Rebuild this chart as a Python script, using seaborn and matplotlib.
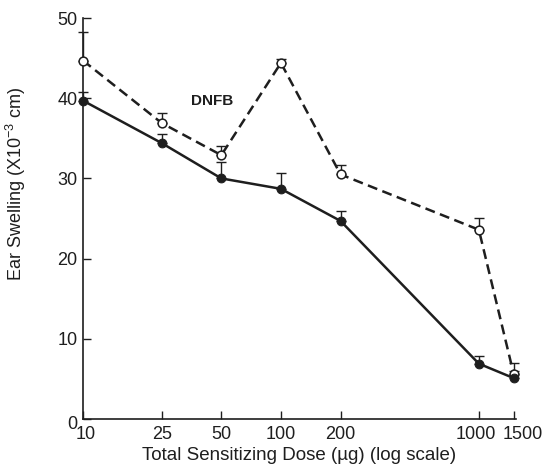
import matplotlib.pyplot as plt
import matplotlib.transforms as mtransforms
import seaborn as sns
import pandas as pd

dose = [10, 25, 50, 100, 200, 1000, 1500]
dose_labels = ["10", "25", "50", "100", "200", "1000", "1500"]

# open circles (dashed)
open_mean = [44.7, 36.9, 32.9, 44.4, 30.5, 23.6, 5.6]
open_err = [3.5, 1.2, 1.2, 0.5, 1.2, 1.5, 1.4]
# filled circles (solid)
filled_mean = [39.7, 34.4, 30.0, 28.7, 24.7, 6.9, 5.1]
filled_err = [1.1, 1.1, 2.0, 2.0, 1.2, 0.9, 0.9]

df = pd.DataFrame({
    "dose": dose * 2,
    "swelling": open_mean + filled_mean,
    "group": ["open"] * len(dose) + ["filled"] * len(dose),
})

sns.set_style("ticks")
plt.rcParams['font.family'] = ['Liberation Sans', 'DejaVu Sans']

ink = "#1e1e1e"
fig = plt.figure(figsize=(5.46, 4.74), dpi=100)
ax = fig.add_axes([0.152, 0.116, 0.793, 0.846])

# error bars, upper side only
ax.errorbar(dose, open_mean, yerr=[[0] * len(dose), open_err], fmt="none",
            ecolor=ink, elinewidth=1.0, capsize=3.5, capthick=1.0, clip_on=False, zorder=2)
ax.errorbar(dose, filled_mean, yerr=[[0] * len(dose), filled_err], fmt="none",
            ecolor=ink, elinewidth=1.0, capsize=3.5, capthick=1.0, clip_on=False, zorder=2)

sub_open = df[df["group"] == "open"]
sub_filled = df[df["group"] == "filled"]
sns.lineplot(data=sub_open, x="dose", y="swelling", ax=ax, color=ink, lw=1.8,
             linestyle=(0, (4, 2.2)), marker="o", markersize=6.3, markerfacecolor="white",
             markeredgecolor=ink, markeredgewidth=1.1, clip_on=False, zorder=3)
sns.lineplot(data=sub_filled, x="dose", y="swelling", ax=ax, color=ink, lw=1.8,
             marker="o", markersize=6.3, markerfacecolor=ink, markeredgecolor=ink,
             clip_on=False, zorder=4)

ax.set_xscale("log")
ax.set_xlim(10, 1540)
ax.set_ylim(0, 50)
ax.set_xticks(dose)
ax.set_xticklabels(dose_labels)
ax.minorticks_off()
ax.set_yticks([0, 10, 20, 30, 40, 50])
ax.tick_params(direction="in", length=6, width=1, colors=ink, labelsize=13, pad=4)
ax.tick_params(axis="x", pad=5)

# nudge the crowded right-hand labels apart
labs = ax.get_xticklabels()
labs[0].set_transform(labs[0].get_transform() + mtransforms.ScaledTranslation(3 / 100, 0, fig.dpi_scale_trans))
labs[5].set_transform(labs[5].get_transform() + mtransforms.ScaledTranslation(-3 / 100, 0, fig.dpi_scale_trans))
labs[6].set_transform(labs[6].get_transform() + mtransforms.ScaledTranslation(9 / 100, 0, fig.dpi_scale_trans))
ylabs = ax.get_yticklabels()
ylabs[0].set_transform(ylabs[0].get_transform() + mtransforms.ScaledTranslation(0, -3 / 100, fig.dpi_scale_trans))

for s in ["top", "right"]:
    ax.spines[s].set_visible(False)
for s in ["left", "bottom"]:
    ax.spines[s].set_color(ink)
    ax.spines[s].set_linewidth(1.2)

ax.text(45, 39.6, "DNFB", fontsize=11, fontweight="bold", ha="center", va="center", color=ink)

ax.set_xlabel("Total Sensitizing Dose (\u00b5g) (log scale)", fontsize=13.5, color=ink, labelpad=3)
ax.set_ylabel("Ear Swelling (X10$^{\\mathregular{-3}}$ cm)", fontsize=13, color=ink)
ax.yaxis.set_label_coords(-0.127, 0.585)

fig.savefig("out.png", dpi=100)
